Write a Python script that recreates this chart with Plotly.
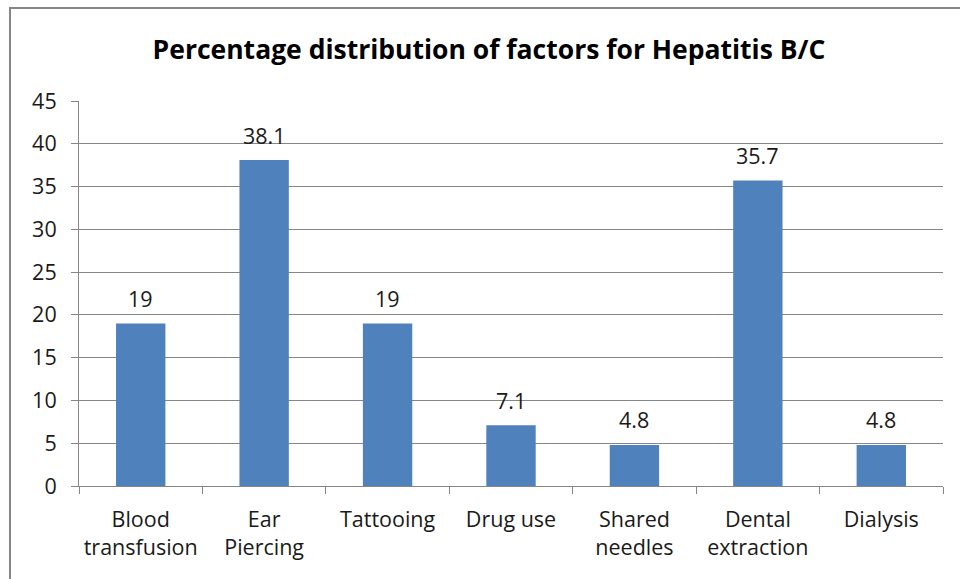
import plotly.graph_objects as go

categories = ["Blood<br>transfusion", "Ear<br>Piercing", "Tattooing", "Drug use",
              "Shared<br>needles", "Dental<br>extraction", "Dialysis"]
values = [19, 38.1, 19, 7.1, 4.8, 35.7, 4.8]
labels = ["19", "38.1", "19", "7.1", "4.8", "35.7", "4.8"]
y_ticks = [0, 5, 10, 15, 20, 25, 30, 35, 40, 45]

W, H = 960, 579
L, R, T, B = 79, 17, 101, 93
pw, ph = W - L - R, H - T - B
FONT = "Open Sans"

fig = go.Figure(go.Bar(
    x=categories, y=values,
    marker=dict(color="#4F81BD", line=dict(width=0)),
))

for c, v, t in zip(categories, values, labels):
    fig.add_annotation(x=c, y=v, text=t, showarrow=False, yanchor="middle",
                       yshift=25, font=dict(size=21.5, color="#1a1a1a", family=FONT))

fig.update_layout(
    width=W, height=H,
    margin=dict(l=L, r=R, t=T, b=B),
    paper_bgcolor="white", plot_bgcolor="white",
    bargap=0.6,
    showlegend=False,
    font=dict(family=FONT, size=21.5, color="#1a1a1a"),
    title=dict(text="<b>Percentage distribution of factors for Hepatitis B/C</b>",
               x=(489 - L) / pw, xref="paper", xanchor="center",
               y=1 - 50 / H, yanchor="middle",
               font=dict(size=26.5, color="#000000", family=FONT)),
    xaxis=dict(showgrid=False, showline=True, linecolor="#868686", linewidth=1,
               ticks="outside", ticklen=7, tickcolor="#868686", tickson="boundaries",
               ticklabelstandoff=14, tickfont=dict(size=21.5)),
    yaxis=dict(range=[0, 45], tickvals=y_ticks, showgrid=True, gridcolor="#868686",
               gridwidth=1, showline=True, linecolor="#868686", linewidth=1,
               ticks="outside", ticklen=7, tickcolor="#868686", zeroline=False,
               ticklabelstandoff=10, tickfont=dict(size=21.5)),
    shapes=[dict(type="rect", xref="paper", yref="paper",
                 x0=(10 - L) / pw, x1=(965 - L) / pw,
                 y0=1 - (585 - T) / ph, y1=1 + (T - 8) / ph,
                 line=dict(color="#868686", width=2), fillcolor="rgba(0,0,0,0)",
                 layer="below")],
)

fig.write_html("out.html")
